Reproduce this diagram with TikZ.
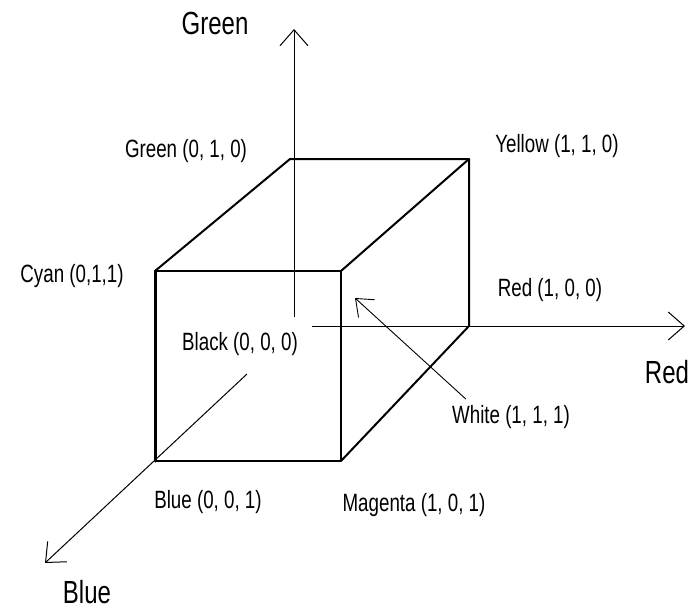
\documentclass[tikz,border=0pt]{standalone}
\usepackage{fontspec}
\setmainfont{Liberation Sans}[FakeStretch=0.75]
\usetikzlibrary{arrows.meta}
\begin{document}
\begin{tikzpicture}[x=1pt,y=-1pt,
  edge/.style={line width=2pt, line cap=round, line join=round},
  thickedge/.style={line width=3pt, line cap=round},
  axis/.style={line width=1pt, -{Straight Barb[length=16pt,width=28pt,line width=1pt]}},
  pointer/.style={line width=0.9pt, -{Straight Barb[length=15pt,width=24pt,line width=0.9pt]}},
  lbl/.style={inner sep=0pt, font=\fontsize{25}{28}\selectfont},
  axlbl/.style={inner sep=0pt, font=\fontsize{32}{36}\selectfont}]
\useasboundingbox (0,0) rectangle (690,610);
\fill[white] (0,0) rectangle (690,610);
% cube corners
\coordinate (G) at (290,159);
\coordinate (Y) at (469,159);
\coordinate (C) at (155,271);
\coordinate (W) at (341,271);
\coordinate (B) at (155,461);
\coordinate (M) at (341,461);
\coordinate (R) at (469,326);
% axis ends
\coordinate (gs) at (294,317);
\coordinate (ge) at (294,29);
\coordinate (rs) at (312,326);
\coordinate (re) at (685,326);
\coordinate (bs) at (247,374);
\coordinate (be) at (45,563);
\coordinate (wt) at (355,298);
% axes
\draw[axis] (gs) -- (ge);
\draw[axis] (rs) -- (re);
\draw[axis] (bs) -- (be);
% cube edges
\draw[edge] (C) -- (G) -- (Y) -- (R);
\draw[edge] (W) -- (Y);
\draw[edge] (M) -- (R);
\draw[edge] (C) -- (W) -- (M) -- (B);
\draw[thickedge] (B) -- (C);
% labels
\node[axlbl] (lg) at (215,23) {Green};
\node[axlbl] (lr) at (667,372) {Red};
\node[axlbl] (lb) at (87,592) {Blue};
\node[lbl] (tg) at (186,151) {Green (0, 1, 0)};
\node[lbl] (ty) at (557,146) {Yellow (1, 1, 0)};
\node[lbl] (tc) at (72,276) {Cyan (0,1,1)};
\node[lbl] (tr) at (550,290) {Red (1, 0, 0)};
\node[lbl] (tk) at (240,344) {Black (0, 0, 0)};
\node[lbl] (tw) at (511,417) {White (1, 1, 1)};
\node[lbl] (tb) at (208,502) {Blue (0, 0, 1)};
\node[lbl] (tm) at (414,505) {Magenta (1, 0, 1)};
\draw[pointer] (tw.north west) ++(14,-6) -- (wt);
\end{tikzpicture}
\end{document}
